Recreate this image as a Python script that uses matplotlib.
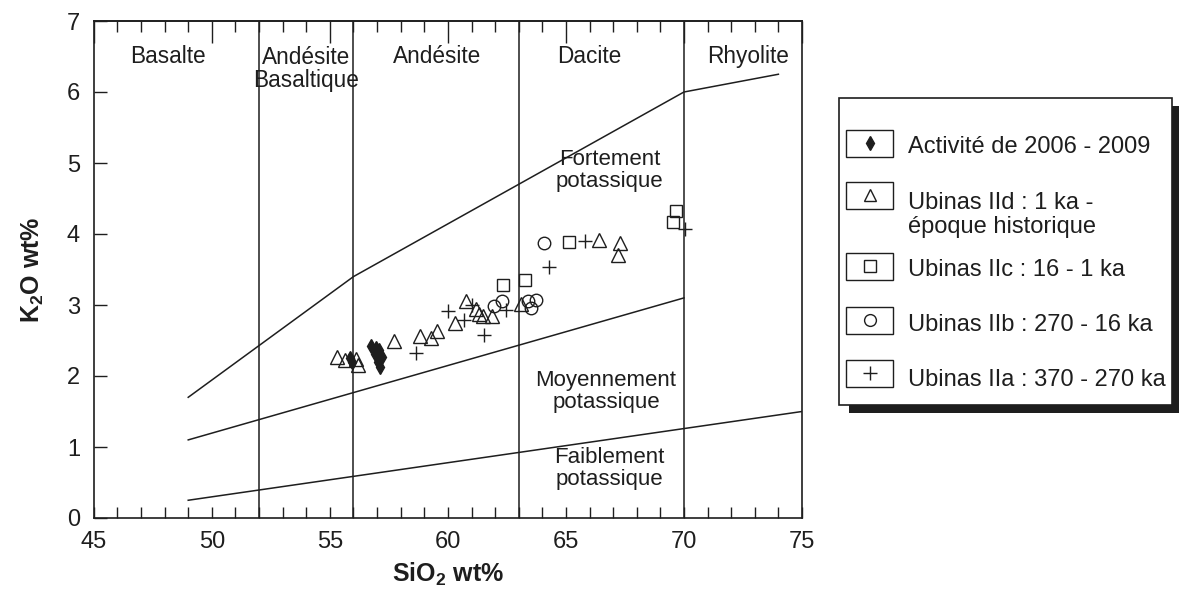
import matplotlib
matplotlib.use('Agg')
import matplotlib.pyplot as plt
from matplotlib.patches import Rectangle
from matplotlib.ticker import MultipleLocator

plt.rcParams['font.family'] = ['Liberation Sans', 'DejaVu Sans']
plt.rcParams['mathtext.fontset'] = 'custom'
plt.rcParams['mathtext.rm'] = 'Liberation Sans'
plt.rcParams['mathtext.bf'] = 'Liberation Sans:bold'

INK = '#1e1e1e'

# ---------------- data ----------------
act_sio2 = [55.85, 55.95, 56.75, 56.95, 57.1, 56.9, 57.2, 57.05, 57.13]
act_k2o = [2.25, 2.20, 2.42, 2.40, 2.36, 2.31, 2.27, 2.20, 2.12]

iid_sio2 = [55.3, 55.65, 56.1, 56.2, 57.7, 58.8, 59.3, 59.55, 60.3, 60.75,
            61.2, 61.3, 61.5, 61.85, 63.1, 66.4, 67.3, 67.2]
iid_k2o = [2.27, 2.22, 2.24, 2.15, 2.50, 2.57, 2.53, 2.64, 2.75, 3.05,
           2.95, 2.87, 2.85, 2.84, 3.02, 3.92, 3.87, 3.70]

iic_sio2 = [62.35, 63.25, 65.15, 69.65, 69.55]
iic_k2o = [3.28, 3.35, 3.89, 4.32, 4.17]

iib_sio2 = [61.95, 62.3, 63.4, 63.75, 63.5, 64.05]
iib_k2o = [2.98, 3.05, 3.05, 3.07, 2.96, 3.87]

iia_sio2 = [58.65, 60.0, 60.7, 61.55, 61.0, 62.45, 64.3, 65.8, 70.05]
iia_k2o = [2.33, 2.91, 2.79, 2.58, 3.0, 2.93, 3.54, 3.90, 4.07]

# field boundaries
high_x = [49, 56, 70, 74]
high_y = [1.7, 3.4, 6.0, 6.25]
med_x = [49, 70]
med_y = [1.1, 3.1]
low_x = [49, 75]
low_y = [0.25, 1.5]
dividers = [52, 56, 63, 70]

rock_names = ['Basalte', 'Andésite\nBasaltique', 'Andésite', 'Dacite', 'Rhyolite']
rock_x = [48.15, 54.0, 59.55, 66.0, 72.7]
rock_y = [6.5, 6.33, 6.5, 6.5, 6.5]

series_names = ['Fortement\npotassique', 'Moyennement\npotassique', 'Faiblement\npotassique']
series_x = [66.85, 66.7, 66.85]
series_y = [4.89, 1.78, 0.70]

legend_labels = ['Activité de 2006 - 2009', 'Ubinas IId : 1 ka -\népoque historique',
                 'Ubinas IIc : 16 - 1 ka', 'Ubinas IIb : 270 - 16 ka',
                 'Ubinas IIa : 370 - 270 ka']

# ---------------- figure ----------------
W, H = 1179, 599
fig = plt.figure(figsize=(W / 100, H / 100), dpi=100)
ax = fig.add_axes([93.8 / W, 1 - 518 / H, (802 - 93.8) / W, (518 - 21) / H])

lw = 1.1
for xv in dividers:
    ax.axvline(xv, color=INK, lw=lw, zorder=1)
ax.plot(high_x, high_y, color=INK, lw=lw, zorder=1)
ax.plot(med_x, med_y, color=INK, lw=lw, zorder=1)
ax.plot(low_x, low_y, color=INK, lw=lw, zorder=1)

mk = dict(linestyle='none', markeredgecolor=INK, markeredgewidth=1.0, zorder=3)
ax.plot(iid_sio2, iid_k2o, marker='^', ms=9.5, markerfacecolor='none', **mk)
ax.plot(iic_sio2, iic_k2o, marker='s', ms=9, markerfacecolor='none', **mk)
ax.plot(iib_sio2, iib_k2o, marker='o', ms=9, markerfacecolor='none', **mk)
ax.plot(iia_sio2, iia_k2o, marker='+', ms=9.5, markerfacecolor='none', **mk)
ax.plot(act_sio2, act_k2o, marker='d', ms=6.8, markerfacecolor=INK, **mk)

for name, xx, yy in zip(rock_names, rock_x, rock_y):
    ax.text(xx, yy, name, ha='center', va='center', fontsize=16.3, color=INK,
            linespacing=1.0)
for name, xx, yy in zip(series_names, series_x, series_y):
    ax.text(xx, yy, name, ha='center', va='center', fontsize=16, color=INK,
            linespacing=1.05)

ax.set_xlim(45, 75)
ax.set_ylim(0, 7)
ax.xaxis.set_major_locator(MultipleLocator(5))
ax.xaxis.set_minor_locator(MultipleLocator(1))
ax.yaxis.set_major_locator(MultipleLocator(1))
ax.tick_params(axis='x', which='both', direction='in', length=8, width=1.0,
               color=INK, labelsize=17, labelcolor=INK, pad=9, top=False)
ax.tick_params(axis='y', which='major', direction='in', length=9, width=1.0,
               color=INK, labelsize=17, labelcolor=INK, pad=10, right=False)
for sp in ax.spines.values():
    sp.set_linewidth(1.2)
    sp.set_color(INK)

sec = ax.secondary_xaxis('top')
sec.xaxis.set_major_locator(MultipleLocator(5))
sec.xaxis.set_minor_locator(MultipleLocator(1))
sec.tick_params(axis='x', which='major', direction='in', length=16, width=1.0,
                color=INK, labeltop=False)
sec.tick_params(axis='x', which='minor', direction='in', length=8, width=1.0,
                color=INK)
sec.spines['top'].set_linewidth(1.2)
sec.spines['top'].set_color(INK)

ax.set_xlabel(r'SiO$_\mathbf{2}$ wt%', fontsize=18, fontweight='bold', color=INK,
              labelpad=6)
ax.set_ylabel(r'K$_\mathbf{2}$O wt%', fontsize=18, fontweight='bold', color=INK,
              labelpad=15)

# ---------------- legend (drawn in pixel layout) ----------------
lax = fig.add_axes([0, 0, 1, 1], zorder=5)
lax.set_xlim(0, W)
lax.set_ylim(H, 0)
lax.axis('off')

bx0, by0, bx1, by1 = 839, 98, 1172, 405
lax.add_patch(Rectangle((bx0 + 10, by0 + 8), bx1 - bx0, by1 - by0,
                        facecolor=INK, edgecolor='none'))
lax.add_patch(Rectangle((bx0, by0), bx1 - bx0, by1 - by0,
                        facecolor='white', edgecolor=INK, lw=1.2))

leg_marker_styles = [dict(marker='d', ms=6.8, markerfacecolor=INK),
                     dict(marker='^', ms=8.5, markerfacecolor='none'),
                     dict(marker='s', ms=8.5, markerfacecolor='none'),
                     dict(marker='o', ms=8.5, markerfacecolor='none'),
                     dict(marker='+', ms=9.5, markerfacecolor='none')]
row_box_y = [143, 195, 266, 320, 373]
row_text_y = [147, 215, 270, 325, 380]
for lab, sty, yb, yt in zip(legend_labels, leg_marker_styles, row_box_y, row_text_y):
    lax.add_patch(Rectangle((846, yb - 13.5), 47, 27, facecolor='white',
                            edgecolor=INK, lw=1.0))
    lax.plot([869.5], [yb], linestyle='none', markeredgecolor=INK,
             markeredgewidth=1.0, **sty)
    lax.text(908, yt, lab, ha='left', va='center', fontsize=17, color=INK,
             linespacing=1.15)

fig.savefig('out.png', dpi=100)
